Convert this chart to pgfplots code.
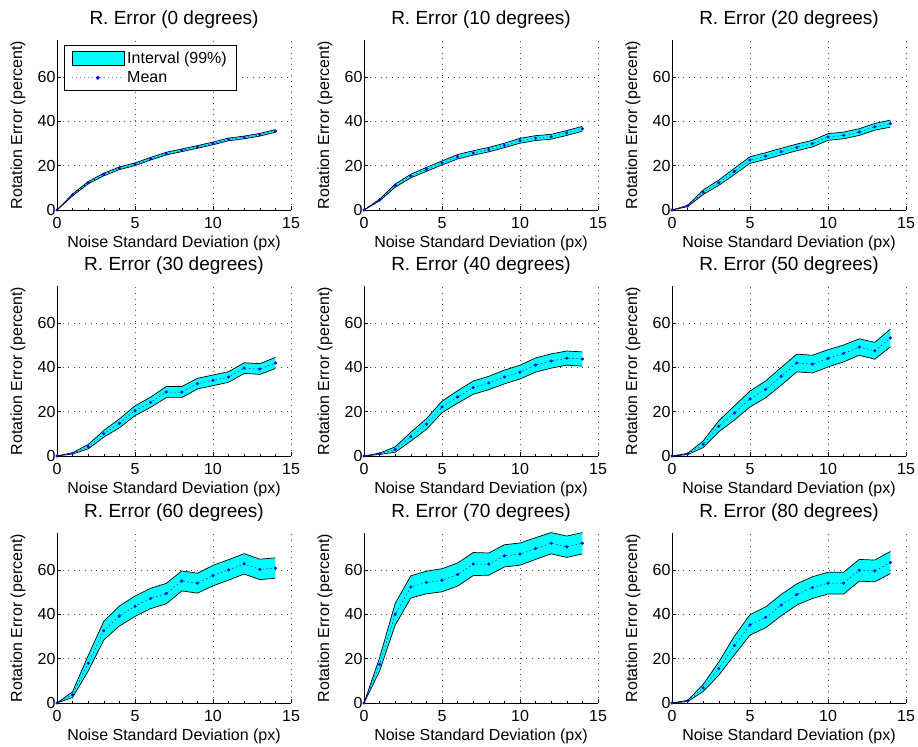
\documentclass[border=0pt]{standalone}
\usepackage{fontspec}
\setmainfont{Liberation Sans}
\usepackage{pgfplots}
\usepackage{pgfplotstable}
\pgfplotsset{compat=1.18}
\usepgfplotslibrary{fillbetween}
\definecolor{mcyan}{rgb}{0,1,1}
\definecolor{mblue}{rgb}{0,0,1}

% x = noise std (px), m = mean, lo/hi = 99% interval
\pgfplotstableread{
x m lo hi
0 0 0 0
1 6.8 6.4 7.2
2 12.3 11.8 12.8
3 16.0 15.4 16.6
4 18.8 18.2 19.4
5 20.6 20.0 21.2
6 23.1 22.5 23.7
7 25.4 24.8 26.0
8 26.9 26.3 27.5
9 28.4 27.8 29.0
10 30.0 29.4 30.6
11 31.8 31.2 32.4
12 32.7 32.1 33.3
13 33.9 33.3 34.5
14 35.6 35.0 36.2
}\tA
\pgfplotstableread{
x m lo hi
0 0 0 0
1 4.5 4.1 4.9
2 11.0 10.3 11.7
3 15.3 14.5 16.1
4 18.3 17.4 19.2
5 21.2 20.3 22.1
6 24.0 23.0 25.0
7 25.7 24.7 26.7
8 27.2 26.2 28.2
9 29.1 28.1 30.1
10 31.2 30.1 32.3
11 32.4 31.3 33.5
12 33.0 31.9 34.1
13 34.7 33.6 35.8
14 36.6 35.5 37.7
}\tB
\pgfplotstableread{
x m lo hi
0 0 0 0
1 1.8 1.5 2.1
2 8.0 7.0 9.0
3 12.3 11.1 13.5
4 17.4 16.0 18.8
5 22.5 21.0 24.0
6 24.3 22.8 25.8
7 26.3 24.8 27.8
8 28.2 26.7 29.7
9 29.9 28.4 31.4
10 32.9 31.4 34.4
11 33.6 32.1 35.1
12 35.1 33.6 36.6
13 37.5 36.0 39.0
14 38.9 37.3 40.5
}\tC
\pgfplotstableread{
x m lo hi
0 0 0 0
1 1.2 0.9 1.5
2 4.2 3.2 5.2
3 10.0 8.5 11.5
4 14.7 12.7 16.7
5 20.4 18.2 22.6
6 24.2 21.9 26.5
7 28.8 26.3 31.3
8 28.8 26.3 31.3
9 32.6 30.2 35.0
10 34.1 31.7 36.5
11 35.6 33.2 38.0
12 39.6 37.2 42.0
13 39.2 36.8 41.6
14 41.9 39.4 44.4
}\tD
\pgfplotstableread{
x m lo hi
0 0 0 0
1 1.0 0.7 1.3
2 2.9 1.7 4.1
3 8.7 6.7 10.7
4 14.4 12.0 16.8
5 22.1 19.5 24.7
6 26.6 23.8 29.4
7 30.8 27.8 33.8
8 32.9 29.9 35.9
9 35.6 32.5 38.7
10 37.8 34.7 40.9
11 41.0 37.8 44.2
12 42.8 39.6 46.0
13 44.1 40.9 47.3
14 43.7 40.5 46.9
}\tE
\pgfplotstableread{
x m lo hi
0 0 0 0
1 0.9 0.6 1.2
2 5.3 3.8 6.8
3 13.4 10.9 15.9
4 19.4 16.2 22.6
5 25.7 22.1 29.3
6 30.0 26.2 33.8
7 35.9 31.9 39.9
8 41.9 37.9 45.9
9 41.4 37.4 45.4
10 44.0 40.1 47.9
11 46.2 42.4 50.0
12 49.1 45.4 52.8
13 47.4 43.6 51.2
14 53.2 49.2 57.2
}\tF
\pgfplotstableread{
x m lo hi
0 0 0 0
1 3.8 2.5 5.1
2 17.9 14.4 21.4
3 32.6 28.4 36.8
4 39.2 34.7 43.7
5 43.6 39.0 48.2
6 47.1 42.5 51.7
7 49.3 44.7 53.9
8 55.0 50.5 59.5
9 54.0 49.5 58.5
10 57.4 52.8 62.0
11 60.0 55.4 64.6
12 62.7 58.1 67.3
13 60.2 55.6 64.8
14 60.8 56.2 65.4
}\tG
\pgfplotstableread{
x m lo hi
0 0 0 0
1 17.4 14.4 20.4
2 40.0 35.1 44.9
3 52.3 47.3 57.3
4 54.3 49.2 59.4
5 55.3 50.1 60.5
6 57.9 52.7 63.1
7 62.6 57.4 67.8
8 62.6 57.6 67.6
9 66.3 61.3 71.3
10 67.1 62.1 72.1
11 69.6 64.7 74.5
12 72.0 67.2 76.8
13 70.4 65.6 75.2
14 72.0 67.2 76.8
}\tH
\pgfplotstableread{
x m lo hi
0 0 0 0
1 0.9 0.6 1.2
2 6.8 5.2 8.4
3 15.5 12.5 18.5
4 25.9 21.7 30.1
5 35.2 30.6 39.8
6 38.6 33.9 43.3
7 44.1 39.3 48.9
8 48.9 44.1 53.7
9 52.0 47.1 56.9
10 54.0 49.1 58.9
11 54.0 49.1 58.9
12 59.8 54.9 64.7
13 59.5 54.6 64.4
14 63.3 58.3 68.3
}\tI

\newcommand\fs{\fontsize{16bp}{19bp}\selectfont}

\pgfplotsset{
  errpanel/.style={
    scale only axis, width=234bp, height=170bp, anchor=south west,
    set layers,
    xmin=0, xmax=15, ymin=0, ymax=76.6,
    xtick={0,5,10,15}, ytick={0,20,40,60},
    minor x tick num=4,
    axis x line*=bottom, axis y line*=left,
    axis line style={-, line width=0.6bp},
    tick align=inside, major tick length=4bp, minor tick length=2bp,
    tick style={black, line width=0.5bp},
    grid=major,
    major grid style={black!70, line width=0.5bp, dash pattern=on 0.6bp off 5bp},
    /pgf/number format/assume math mode=true,
    tick label style={font=\fs},
    x tick label style={yshift=-4bp},
    y tick label style={xshift=2bp},
    label style={font=\fs},
    xlabel={Noise Standard Deviation (px)},
    ylabel={Rotation Error (percent)},
    xlabel style={at={(axis description cs:0.5,0)}, anchor=center, yshift=-33bp},
    ylabel style={at={(axis description cs:-0.167,0.5)}, anchor=center, rotate=0},
    title style={font=\fontsize{19bp}{22bp}\selectfont, at={(axis description cs:0.5,1)}, anchor=base, yshift=10bp},
  }
}

\newcommand\band[1]{%
  \addplot[name path=hi, draw=black, line width=0.7bp, forget plot] table[x=x, y=hi] {#1};
  \addplot[name path=lo, draw=black, line width=0.7bp, forget plot] table[x=x, y=lo] {#1};
  \addplot[fill=mcyan, forget plot] fill between[of=hi and lo];
  \addplot[mblue, line width=0.5bp, dash pattern=on 1.5bp off 2.5bp, mark=*, mark size=1.3bp,
    mark options={solid, fill=mblue, draw=mblue}, forget plot] table[x=x, y=m] {#1};
}

\begin{document}
\begin{tikzpicture}

\begin{axis}[errpanel, at={(57bp,537bp)}, title={R. Error (0 degrees)},
  legend style={at={(0.03,0.97)}, anchor=north west, draw=black, line width=0.8bp,
    font=\fs, inner xsep=7bp, inner ysep=4bp, row sep=3bp,
    nodes={inner xsep=3bp}},
  legend cell align=left]
\addlegendimage{legend image code/.code={\draw[fill=mcyan, draw=black, line width=0.6bp] (0bp,-7bp) rectangle (52bp,7bp);}}
\addlegendentry{Interval (99\%)}
\addlegendimage{legend image code/.code={\draw[mblue!50, line width=0.8bp, dash pattern=on 1bp off 3bp] (0bp,0bp) -- (52bp,0bp); \fill[mblue] (26bp,0bp) circle (1.5bp);}}
\addlegendentry{Mean}
\band{\tA}
\end{axis}

\begin{axis}[errpanel, at={(364bp,537bp)}, title={R. Error (10 degrees)}]
\band{\tB}
\end{axis}

\begin{axis}[errpanel, at={(672bp,537bp)}, title={R. Error (20 degrees)}]
\band{\tC}
\end{axis}

\begin{axis}[errpanel, at={(57bp,291bp)}, title={R. Error (30 degrees)}]
\band{\tD}
\end{axis}

\begin{axis}[errpanel, at={(364bp,291bp)}, title={R. Error (40 degrees)}]
\band{\tE}
\end{axis}

\begin{axis}[errpanel, at={(672bp,291bp)}, title={R. Error (50 degrees)}]
\band{\tF}
\end{axis}

\begin{axis}[errpanel, at={(57bp,44bp)}, title={R. Error (60 degrees)}]
\band{\tG}
\end{axis}

\begin{axis}[errpanel, at={(364bp,44bp)}, title={R. Error (70 degrees)}]
\band{\tH}
\end{axis}

\begin{axis}[errpanel, at={(672bp,44bp)}, title={R. Error (80 degrees)}]
\band{\tI}
\end{axis}

\pgfresetboundingbox
\useasboundingbox (0,0) rectangle (918bp,747bp);
\end{tikzpicture}
\end{document}
